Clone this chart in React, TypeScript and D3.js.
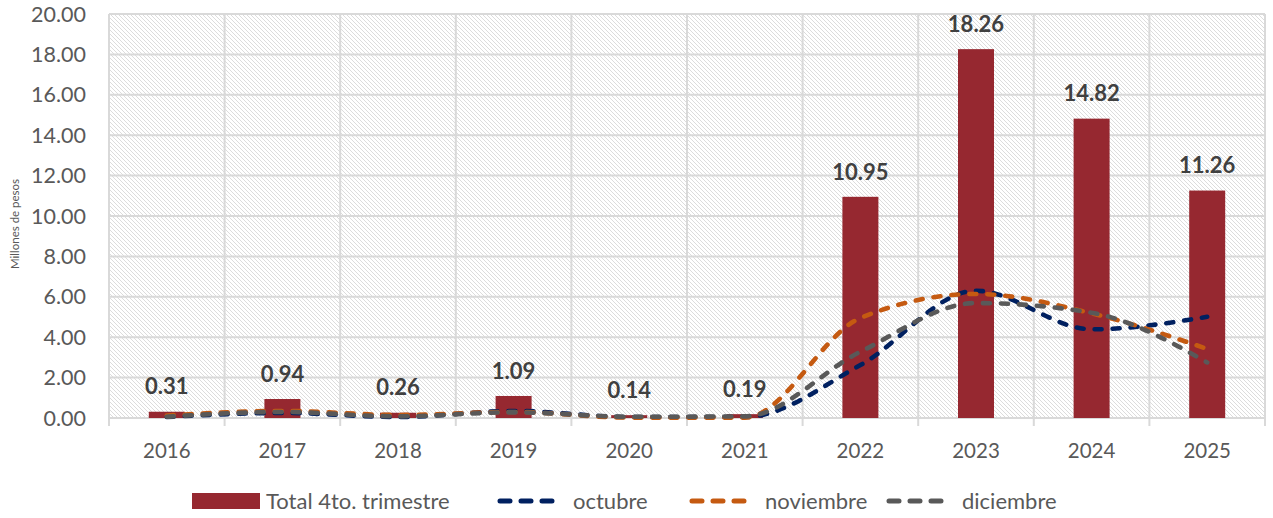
import React from "react";
import * as d3 from "d3";

const years = ["2016", "2017", "2018", "2019", "2020", "2021", "2022", "2023", "2024", "2025"];
const totalQ4 = [0.31, 0.94, 0.26, 1.09, 0.14, 0.19, 10.95, 18.26, 14.82, 11.26];
const octubre = [0.05, 0.25, 0.05, 0.35, 0.05, 0.05, 2.62, 6.3, 4.39, 5.01];
const noviembre = [0.12, 0.35, 0.15, 0.3, 0.02, 0.02, 4.95, 6.14, 5.18, 3.42];
const diciembre = [0.06, 0.3, 0.08, 0.28, 0.06, 0.08, 3.28, 5.69, 5.21, 2.75];
const yTicks = [0, 2, 4, 6, 8, 10, 12, 14, 16, 18, 20];

const W = 1273;
const H = 518;
const L = 109, R = 1265, T = 14, B = 418;
const FONT = "Lato, 'Open Sans', sans-serif";
const GRID = "#d9d9d9";
const TXT = "#595959";
const BAR = "#962830";

const lineSeries = [
  { name: "octubre", values: octubre, color: "#002060" },
  { name: "noviembre", values: noviembre, color: "#c55a11" },
  { name: "diciembre", values: diciembre, color: "#595959" },
];

export default function App() {
  const x = d3.scaleBand<string>().domain(years).range([L, R]).paddingInner(0).paddingOuter(0);
  const y = d3.scaleLinear().domain([0, 20]).range([B, T]);
  const bw = 36;
  const cx = (yr: string) => (x(yr) as number) + x.bandwidth() / 2;
  const line = d3
    .line<number>()
    .x((_, i) => cx(years[i]))
    .y((v) => y(v))
    .curve(d3.curveMonotoneX);

  const legendLines = [
    { name: "octubre", color: "#002060", x0: 497, tx: 573 },
    { name: "noviembre", color: "#c55a11", x0: 689, tx: 765 },
    { name: "diciembre", color: "#595959", x0: 886, tx: 962 },
  ];

  return (
    <svg width={W} height={H} style={{ position: "absolute", left: 0, top: 0, background: "#fff" }}>
      <defs>
        <pattern id="hatch" width="4" height="4" patternUnits="userSpaceOnUse">
          <rect width="4" height="4" fill="#ffffff" />
          <path d="M-1,-1 L5,5 M-1,3 L1,5 M3,-1 L5,1" stroke="#dcdcdc" strokeWidth="1" />
        </pattern>
      </defs>
      <rect x={L} y={T} width={R - L} height={B - T} fill="url(#hatch)" />
      {yTicks.map((t) => (
        <line key={"g" + t} x1={L} x2={R} y1={y(t)} y2={y(t)} stroke={GRID} strokeWidth={2} />
      ))}
      {years.map((yr) => (
        <line key={"v" + yr} x1={x(yr) as number} x2={x(yr) as number} y1={T} y2={B + 8} stroke={GRID} strokeWidth={2} />
      ))}
      <line x1={R} x2={R} y1={T} y2={B + 8} stroke={GRID} strokeWidth={2} />
      {yTicks.map((t) => (
        <text key={"yl" + t} x={86} y={y(t)} dy="0.35em" textAnchor="end" fontFamily={FONT} fontSize={21.5} fill={TXT}>
          {t.toFixed(2)}
        </text>
      ))}
      <text transform={`translate(19,${(T + B) / 2 + 8}) rotate(-90)`} textAnchor="middle" fontFamily={FONT} fontSize={11.5} fill={TXT}>
        Millones de pesos
      </text>
      {years.map((yr) => (
        <text key={"xl" + yr} x={cx(yr)} y={451} dy="0.35em" textAnchor="middle" fontFamily={FONT} fontSize={20.5} fill={TXT}>
          {yr}
        </text>
      ))}
      {totalQ4.map((v, i) => (
        <rect key={"b" + i} x={cx(years[i]) - bw / 2} y={y(v)} width={bw} height={B - y(v)} fill={BAR} />
      ))}
      {lineSeries.map((s) => (
        <path
          key={s.name}
          d={line(s.values) || ""}
          fill="none"
          stroke={s.color}
          strokeWidth={4.6}
          strokeDasharray="7 11"
          strokeLinecap="round"
        />
      ))}
      {totalQ4.map((v, i) => (
        <text
          key={"dl" + i}
          x={cx(years[i])}
          y={y(v) - 25}
          dy="0.35em"
          textAnchor="middle"
          fontFamily={FONT}
          fontWeight="bold"
          fontSize={22}
          fill="#404040"
        >
          {v.toFixed(2)}
        </text>
      ))}
      <rect x={192} y={493} width={68} height={16} fill={BAR} />
      <text x={266} y={501} dy="0.35em" fontFamily={FONT} fontSize={22} fill={TXT}>
        Total 4to. trimestre
      </text>
      {legendLines.map((l) => (
        <g key={"lg" + l.name}>
          <line
            x1={l.x0 + 3}
            x2={l.x0 + 57}
            y1={501}
            y2={501}
            stroke={l.color}
            strokeWidth={5}
            strokeDasharray="10 11"
            strokeLinecap="round"
          />
          <text x={l.tx} y={501} dy="0.35em" fontFamily={FONT} fontSize={22} fill={TXT}>
            {l.name}
          </text>
        </g>
      ))}
    </svg>
  );
}
